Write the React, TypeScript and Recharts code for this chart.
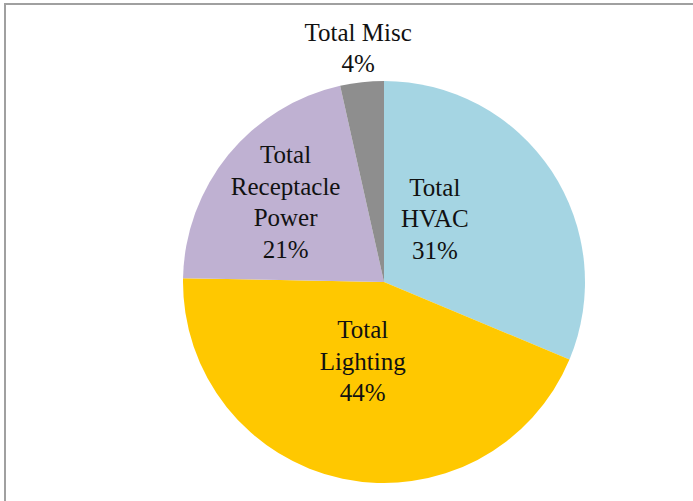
import React from 'react';
import { PieChart, Pie, Cell } from 'recharts';

const categories = ['Total HVAC', 'Total Lighting', 'Total Receptacle Power', 'Total Misc'];
const shares = [31.3, 44.0, 21.2, 3.5];
const labelLines = [['Total', 'HVAC'], ['Total', 'Lighting'], ['Total', 'Receptacle', 'Power'], ['Total Misc']];
const COLORS = ['#A5D5E3', '#FFC800', '#BFB1D2', '#8E8E8E'];

const data = categories.map((name, i) => ({ name, value: shares[i] }));

// where each label sits: fraction of the radius, and a turn (deg, clockwise) off the slice middle
const LABEL_PLACE = [
  { r: 0.405, turn: -17.7 },
  { r: 0.405, turn: 3.3 },
  { r: 0.632, turn: 0 },
  { r: 1.174, turn: 0 },
];

const FONT = "'Liberation Serif', 'Times New Roman', serif";
const LINE = 31.5;

const renderLabel = (props: any) => {
  const { cx, cy, midAngle, outerRadius, index, percent } = props;
  const place = LABEL_PLACE[index];
  const ang = ((midAngle - place.turn) * Math.PI) / 180;
  const x = cx + outerRadius * place.r * Math.cos(ang);
  const y = cy - outerRadius * place.r * Math.sin(ang);
  const lines = [...labelLines[index], `${Math.round(percent * 100)}%`];
  const first = y + 9 - ((lines.length - 1) * LINE) / 2;
  return (
    <text
      x={x}
      y={first}
      textAnchor="middle"
      fill="#111"
      style={{ fontFamily: FONT, fontSize: 25 }}
    >
      {lines.map((t, i) => (
        <tspan key={i} x={x} y={first + i * LINE}>
          {t}
        </tspan>
      ))}
    </text>
  );
};

const App: React.FC = () => {
  return (
    <div style={{ position: 'absolute', left: 0, top: 0, width: 693, height: 501, overflow: 'hidden', background: '#fff' }}>
      <div
        style={{
          position: 'absolute',
          left: 4,
          top: 3,
          width: 800,
          height: 600,
          borderLeft: '2px solid #a0a0a0',
          borderTop: '2px solid #a0a0a0',
        }}
      />
      <div style={{ position: 'absolute', left: 0, top: 0, fontFamily: FONT }}>
        <PieChart width={693} height={501} margin={{ top: 0, right: 0, bottom: 0, left: 0 }}>
          <Pie
            data={data}
            dataKey="value"
            nameKey="name"
            cx={384}
            cy={282}
            outerRadius={201}
            startAngle={90}
            endAngle={-270}
            stroke="none"
            label={renderLabel}
            labelLine={false}
            isAnimationActive={false}
          >
            {data.map((entry, index) => (
              <Cell key={`cell-${index}`} fill={COLORS[index % COLORS.length]} />
            ))}
          </Pie>
        </PieChart>
      </div>
    </div>
  );
};

export default App;
